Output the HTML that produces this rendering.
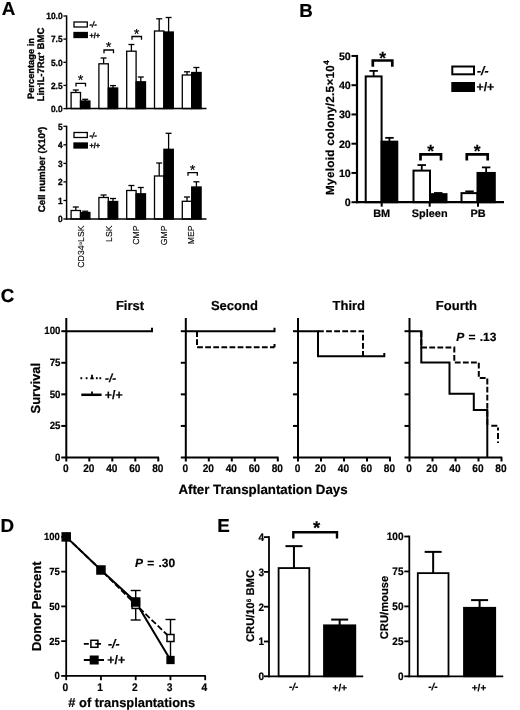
<!DOCTYPE html>
<html><head><meta charset="utf-8"><title>Figure</title>
<style>
html,body{margin:0;padding:0;background:#fff;}
body{width:520px;height:710px;overflow:hidden;}
svg{display:block;will-change:transform;font-family:"Liberation Sans",sans-serif;fill:#000;}
</style></head><body>
<svg width="520" height="710" viewBox="0 0 520 710" shape-rendering="geometricPrecision" text-rendering="geometricPrecision">
<rect x="0" y="0" width="520" height="710" fill="#fff"/>
<text x="1.8" y="14.9" font-size="18.8" font-weight="bold" text-anchor="start" stroke="#000" stroke-width="0.2">A</text>
<line x1="75.8" y1="90" x2="75.8" y2="92.5" stroke="#000" stroke-width="1.3" stroke-linecap="butt"/>
<line x1="72.8" y1="90" x2="78.8" y2="90" stroke="#000" stroke-width="1.3" stroke-linecap="butt"/>
<rect x="71.1" y="92.5" width="9.4" height="16.1" fill="#fff" stroke="#000" stroke-width="1.3"/>
<line x1="85.2" y1="99.3" x2="85.2" y2="101" stroke="#000" stroke-width="1.3" stroke-linecap="butt"/>
<line x1="82.2" y1="99.3" x2="88.2" y2="99.3" stroke="#000" stroke-width="1.3" stroke-linecap="butt"/>
<rect x="80.5" y="101" width="9.4" height="7.6" fill="#000" stroke="#000" stroke-width="1.3"/>
<line x1="103.6" y1="58" x2="103.6" y2="63.8" stroke="#000" stroke-width="1.3" stroke-linecap="butt"/>
<line x1="100.6" y1="58" x2="106.6" y2="58" stroke="#000" stroke-width="1.3" stroke-linecap="butt"/>
<rect x="98.9" y="63.8" width="9.4" height="44.8" fill="#fff" stroke="#000" stroke-width="1.3"/>
<line x1="113" y1="85.6" x2="113" y2="88" stroke="#000" stroke-width="1.3" stroke-linecap="butt"/>
<line x1="110" y1="85.6" x2="116" y2="85.6" stroke="#000" stroke-width="1.3" stroke-linecap="butt"/>
<rect x="108.3" y="88" width="9.4" height="20.6" fill="#000" stroke="#000" stroke-width="1.3"/>
<line x1="131.4" y1="44.5" x2="131.4" y2="51.2" stroke="#000" stroke-width="1.3" stroke-linecap="butt"/>
<line x1="128.4" y1="44.5" x2="134.4" y2="44.5" stroke="#000" stroke-width="1.3" stroke-linecap="butt"/>
<rect x="126.7" y="51.2" width="9.4" height="57.4" fill="#fff" stroke="#000" stroke-width="1.3"/>
<line x1="140.8" y1="77" x2="140.8" y2="81.8" stroke="#000" stroke-width="1.3" stroke-linecap="butt"/>
<line x1="137.8" y1="77" x2="143.8" y2="77" stroke="#000" stroke-width="1.3" stroke-linecap="butt"/>
<rect x="136.1" y="81.8" width="9.4" height="26.8" fill="#000" stroke="#000" stroke-width="1.3"/>
<line x1="159.2" y1="18.8" x2="159.2" y2="31" stroke="#000" stroke-width="1.3" stroke-linecap="butt"/>
<line x1="156.2" y1="18.8" x2="162.2" y2="18.8" stroke="#000" stroke-width="1.3" stroke-linecap="butt"/>
<rect x="154.5" y="31" width="9.4" height="77.6" fill="#fff" stroke="#000" stroke-width="1.3"/>
<line x1="168.6" y1="17.5" x2="168.6" y2="32" stroke="#000" stroke-width="1.3" stroke-linecap="butt"/>
<line x1="165.6" y1="17.5" x2="171.6" y2="17.5" stroke="#000" stroke-width="1.3" stroke-linecap="butt"/>
<rect x="163.9" y="32" width="9.4" height="76.6" fill="#000" stroke="#000" stroke-width="1.3"/>
<line x1="187" y1="71.8" x2="187" y2="75" stroke="#000" stroke-width="1.3" stroke-linecap="butt"/>
<line x1="184" y1="71.8" x2="190" y2="71.8" stroke="#000" stroke-width="1.3" stroke-linecap="butt"/>
<rect x="182.3" y="75" width="9.4" height="33.6" fill="#fff" stroke="#000" stroke-width="1.3"/>
<line x1="196.4" y1="67.5" x2="196.4" y2="72.5" stroke="#000" stroke-width="1.3" stroke-linecap="butt"/>
<line x1="193.4" y1="67.5" x2="199.4" y2="67.5" stroke="#000" stroke-width="1.3" stroke-linecap="butt"/>
<rect x="191.7" y="72.5" width="9.4" height="36.1" fill="#000" stroke="#000" stroke-width="1.3"/>
<line x1="66.6" y1="15.4" x2="66.6" y2="109.25" stroke="#000" stroke-width="1.5" stroke-linecap="butt"/>
<line x1="65.9" y1="108.6" x2="206.5" y2="108.6" stroke="#000" stroke-width="1.5" stroke-linecap="butt"/>
<line x1="63.4" y1="16" x2="66.6" y2="16" stroke="#000" stroke-width="1.3" stroke-linecap="butt"/>
<text x="0" y="0" font-size="9" font-weight="bold" text-anchor="end" stroke="#000" stroke-width="0.32" transform="translate(62.6 19.2) scale(0.93 1)">10.0</text>
<line x1="63.4" y1="39.1" x2="66.6" y2="39.1" stroke="#000" stroke-width="1.3" stroke-linecap="butt"/>
<text x="0" y="0" font-size="9" font-weight="bold" text-anchor="end" stroke="#000" stroke-width="0.32" transform="translate(62.6 42.3) scale(0.93 1)">7.5</text>
<line x1="63.4" y1="62.3" x2="66.6" y2="62.3" stroke="#000" stroke-width="1.3" stroke-linecap="butt"/>
<text x="0" y="0" font-size="9" font-weight="bold" text-anchor="end" stroke="#000" stroke-width="0.32" transform="translate(62.6 65.5) scale(0.93 1)">5.0</text>
<line x1="63.4" y1="85.4" x2="66.6" y2="85.4" stroke="#000" stroke-width="1.3" stroke-linecap="butt"/>
<text x="0" y="0" font-size="9" font-weight="bold" text-anchor="end" stroke="#000" stroke-width="0.32" transform="translate(62.6 88.6) scale(0.93 1)">2.5</text>
<line x1="63.4" y1="108.6" x2="66.6" y2="108.6" stroke="#000" stroke-width="1.3" stroke-linecap="butt"/>
<text x="0" y="0" font-size="9" font-weight="bold" text-anchor="end" stroke="#000" stroke-width="0.32" transform="translate(62.6 111.8) scale(0.93 1)">0.0</text>
<rect x="74" y="22" width="13.3" height="5" fill="#fff" stroke="#000" stroke-width="1.3"/>
<text x="89.6" y="27.2" font-size="7.6" font-weight="bold" text-anchor="start" stroke="#000" stroke-width="0.32" font-style="italic">-/-</text>
<rect x="74" y="32.5" width="13.3" height="5" fill="#000" stroke="#000" stroke-width="1.3"/>
<text x="89.5" y="37.7" font-size="7.4" font-weight="bold" text-anchor="start" stroke="#000" stroke-width="0.32">+/+</text>
<path d="M76 86.6V83.3H85.5V86.6" fill="none" stroke="#000" stroke-width="1.3" stroke-linejoin="miter"/>
<text x="80.65" y="85.39" font-size="14.6" font-weight="normal" text-anchor="middle" stroke="#000" stroke-width="0.15">*</text>
<path d="M104 53.3V50H113.5V53.3" fill="none" stroke="#000" stroke-width="1.3" stroke-linejoin="miter"/>
<text x="108.65" y="52.09" font-size="14.6" font-weight="normal" text-anchor="middle" stroke="#000" stroke-width="0.15">*</text>
<path d="M132 39.8V36.5H141.5V39.8" fill="none" stroke="#000" stroke-width="1.3" stroke-linejoin="miter"/>
<text x="136.65" y="38.59" font-size="14.6" font-weight="normal" text-anchor="middle" stroke="#000" stroke-width="0.15">*</text>
<text x="33.6" y="68.5" font-size="9.3" font-weight="bold" text-anchor="middle" stroke="#000" stroke-width="0.32" transform="rotate(-90 33.6 68.5)">Percentage in</text>
<text x="43.6" y="64.5" font-size="9.6" font-weight="bold" text-anchor="middle" stroke="#000" stroke-width="0.32" transform="rotate(-90 43.6 64.5)">Lin<tspan font-size="5.5" dy="-3">-</tspan><tspan dy="3">IL-7R&#945;</tspan><tspan font-size="5.5" dy="-3">+</tspan><tspan dy="3"> BMC</tspan></text>
<line x1="75.8" y1="207" x2="75.8" y2="210.5" stroke="#000" stroke-width="1.3" stroke-linecap="butt"/>
<line x1="72.8" y1="207" x2="78.8" y2="207" stroke="#000" stroke-width="1.3" stroke-linecap="butt"/>
<rect x="71.1" y="210.5" width="9.4" height="8.5" fill="#fff" stroke="#000" stroke-width="1.3"/>
<line x1="85.2" y1="211.2" x2="85.2" y2="212.5" stroke="#000" stroke-width="1.3" stroke-linecap="butt"/>
<line x1="82.2" y1="211.2" x2="88.2" y2="211.2" stroke="#000" stroke-width="1.3" stroke-linecap="butt"/>
<rect x="80.5" y="212.5" width="9.4" height="6.5" fill="#000" stroke="#000" stroke-width="1.3"/>
<line x1="103.6" y1="195" x2="103.6" y2="197.5" stroke="#000" stroke-width="1.3" stroke-linecap="butt"/>
<line x1="100.6" y1="195" x2="106.6" y2="195" stroke="#000" stroke-width="1.3" stroke-linecap="butt"/>
<rect x="98.9" y="197.5" width="9.4" height="21.5" fill="#fff" stroke="#000" stroke-width="1.3"/>
<line x1="113" y1="198.5" x2="113" y2="201.5" stroke="#000" stroke-width="1.3" stroke-linecap="butt"/>
<line x1="110" y1="198.5" x2="116" y2="198.5" stroke="#000" stroke-width="1.3" stroke-linecap="butt"/>
<rect x="108.3" y="201.5" width="9.4" height="17.5" fill="#000" stroke="#000" stroke-width="1.3"/>
<line x1="131.4" y1="185.5" x2="131.4" y2="190.5" stroke="#000" stroke-width="1.3" stroke-linecap="butt"/>
<line x1="128.4" y1="185.5" x2="134.4" y2="185.5" stroke="#000" stroke-width="1.3" stroke-linecap="butt"/>
<rect x="126.7" y="190.5" width="9.4" height="28.5" fill="#fff" stroke="#000" stroke-width="1.3"/>
<line x1="140.8" y1="187.5" x2="140.8" y2="193.8" stroke="#000" stroke-width="1.3" stroke-linecap="butt"/>
<line x1="137.8" y1="187.5" x2="143.8" y2="187.5" stroke="#000" stroke-width="1.3" stroke-linecap="butt"/>
<rect x="136.1" y="193.8" width="9.4" height="25.2" fill="#000" stroke="#000" stroke-width="1.3"/>
<line x1="159.2" y1="163" x2="159.2" y2="176" stroke="#000" stroke-width="1.3" stroke-linecap="butt"/>
<line x1="156.2" y1="163" x2="162.2" y2="163" stroke="#000" stroke-width="1.3" stroke-linecap="butt"/>
<rect x="154.5" y="176" width="9.4" height="43" fill="#fff" stroke="#000" stroke-width="1.3"/>
<line x1="168.6" y1="133.3" x2="168.6" y2="149.3" stroke="#000" stroke-width="1.3" stroke-linecap="butt"/>
<line x1="165.6" y1="133.3" x2="171.6" y2="133.3" stroke="#000" stroke-width="1.3" stroke-linecap="butt"/>
<rect x="163.9" y="149.3" width="9.4" height="69.7" fill="#000" stroke="#000" stroke-width="1.3"/>
<line x1="187" y1="197" x2="187" y2="201.3" stroke="#000" stroke-width="1.3" stroke-linecap="butt"/>
<line x1="184" y1="197" x2="190" y2="197" stroke="#000" stroke-width="1.3" stroke-linecap="butt"/>
<rect x="182.3" y="201.3" width="9.4" height="17.7" fill="#fff" stroke="#000" stroke-width="1.3"/>
<line x1="196.4" y1="181.8" x2="196.4" y2="187" stroke="#000" stroke-width="1.3" stroke-linecap="butt"/>
<line x1="193.4" y1="181.8" x2="199.4" y2="181.8" stroke="#000" stroke-width="1.3" stroke-linecap="butt"/>
<rect x="191.7" y="187" width="9.4" height="32" fill="#000" stroke="#000" stroke-width="1.3"/>
<line x1="66.6" y1="125.7" x2="66.6" y2="219.65" stroke="#000" stroke-width="1.5" stroke-linecap="butt"/>
<line x1="65.9" y1="219" x2="206.5" y2="219" stroke="#000" stroke-width="1.5" stroke-linecap="butt"/>
<line x1="63.4" y1="126.3" x2="66.6" y2="126.3" stroke="#000" stroke-width="1.3" stroke-linecap="butt"/>
<text x="0" y="0" font-size="9" font-weight="bold" text-anchor="end" stroke="#000" stroke-width="0.32" transform="translate(62.6 129.5) scale(0.93 1)">5</text>
<line x1="63.4" y1="144.8" x2="66.6" y2="144.8" stroke="#000" stroke-width="1.3" stroke-linecap="butt"/>
<text x="0" y="0" font-size="9" font-weight="bold" text-anchor="end" stroke="#000" stroke-width="0.32" transform="translate(62.6 148) scale(0.93 1)">4</text>
<line x1="63.4" y1="163.4" x2="66.6" y2="163.4" stroke="#000" stroke-width="1.3" stroke-linecap="butt"/>
<text x="0" y="0" font-size="9" font-weight="bold" text-anchor="end" stroke="#000" stroke-width="0.32" transform="translate(62.6 166.6) scale(0.93 1)">3</text>
<line x1="63.4" y1="181.9" x2="66.6" y2="181.9" stroke="#000" stroke-width="1.3" stroke-linecap="butt"/>
<text x="0" y="0" font-size="9" font-weight="bold" text-anchor="end" stroke="#000" stroke-width="0.32" transform="translate(62.6 185.1) scale(0.93 1)">2</text>
<line x1="63.4" y1="200.5" x2="66.6" y2="200.5" stroke="#000" stroke-width="1.3" stroke-linecap="butt"/>
<text x="0" y="0" font-size="9" font-weight="bold" text-anchor="end" stroke="#000" stroke-width="0.32" transform="translate(62.6 203.7) scale(0.93 1)">1</text>
<line x1="63.4" y1="219" x2="66.6" y2="219" stroke="#000" stroke-width="1.3" stroke-linecap="butt"/>
<text x="0" y="0" font-size="9" font-weight="bold" text-anchor="end" stroke="#000" stroke-width="0.32" transform="translate(62.6 222.2) scale(0.93 1)">0</text>
<rect x="74" y="132.5" width="13.3" height="5" fill="#fff" stroke="#000" stroke-width="1.3"/>
<text x="89.6" y="137.7" font-size="7.6" font-weight="bold" text-anchor="start" stroke="#000" stroke-width="0.32" font-style="italic">-/-</text>
<rect x="74" y="143" width="13.3" height="5" fill="#000" stroke="#000" stroke-width="1.3"/>
<text x="89.5" y="148.2" font-size="7.4" font-weight="bold" text-anchor="start" stroke="#000" stroke-width="0.32">+/+</text>
<path d="M188 175.8V172.6H197.3V175.8" fill="none" stroke="#000" stroke-width="1.3" stroke-linejoin="miter"/>
<text x="192.5" y="174.69" font-size="14.6" font-weight="normal" text-anchor="middle" stroke="#000" stroke-width="0.15">*</text>
<text x="45.2" y="169.5" font-size="9.7" font-weight="bold" text-anchor="middle" stroke="#000" stroke-width="0.32" transform="rotate(-90 45.2 169.5)">Cell number (X10<tspan font-size="5.5" dy="-3.2">4</tspan><tspan dy="3.2">)</tspan></text>
<text x="84.3" y="225.5" font-size="8.7" font-weight="normal" text-anchor="end" stroke="#000" stroke-width="0.15" transform="rotate(-90 84.3 225.5)">CD34<tspan font-size="4.5" dy="-2.5">lo</tspan><tspan dy="2.5">LSK</tspan></text>
<text x="112" y="225.5" font-size="8.7" font-weight="normal" text-anchor="end" stroke="#000" stroke-width="0.15" transform="rotate(-90 112 225.5)">LSK</text>
<text x="139" y="225.5" font-size="8.7" font-weight="normal" text-anchor="end" stroke="#000" stroke-width="0.15" transform="rotate(-90 139 225.5)">CMP</text>
<text x="166.8" y="225.5" font-size="8.7" font-weight="normal" text-anchor="end" stroke="#000" stroke-width="0.15" transform="rotate(-90 166.8 225.5)">GMP</text>
<text x="194.3" y="225.5" font-size="8.7" font-weight="normal" text-anchor="end" stroke="#000" stroke-width="0.15" transform="rotate(-90 194.3 225.5)">MEP</text>
<text x="299.3" y="17.3" font-size="18.8" font-weight="bold" text-anchor="start" stroke="#000" stroke-width="0.2">B</text>
<line x1="373.65" y1="70.87" x2="373.65" y2="76.42" stroke="#000" stroke-width="1.8" stroke-linecap="butt"/>
<line x1="369.4" y1="70.87" x2="377.9" y2="70.87" stroke="#000" stroke-width="1.8" stroke-linecap="butt"/>
<rect x="365.7" y="76.42" width="15.9" height="125.77" fill="#fff" stroke="#000" stroke-width="2"/>
<line x1="389.45" y1="137.85" x2="389.45" y2="141.65" stroke="#000" stroke-width="1.8" stroke-linecap="butt"/>
<line x1="385.2" y1="137.85" x2="393.7" y2="137.85" stroke="#000" stroke-width="1.8" stroke-linecap="butt"/>
<rect x="381.6" y="141.65" width="15.7" height="60.55" fill="#000" stroke="#000" stroke-width="2"/>
<line x1="421.75" y1="165.05" x2="421.75" y2="170.61" stroke="#000" stroke-width="1.8" stroke-linecap="butt"/>
<line x1="417.5" y1="165.05" x2="426" y2="165.05" stroke="#000" stroke-width="1.8" stroke-linecap="butt"/>
<rect x="413.5" y="170.61" width="16.5" height="31.59" fill="#fff" stroke="#000" stroke-width="2"/>
<line x1="438.25" y1="192.99" x2="438.25" y2="194.16" stroke="#000" stroke-width="1.8" stroke-linecap="butt"/>
<line x1="434" y1="192.99" x2="442.5" y2="192.99" stroke="#000" stroke-width="1.8" stroke-linecap="butt"/>
<rect x="430" y="194.16" width="16.5" height="8.04" fill="#000" stroke="#000" stroke-width="2"/>
<line x1="469.5" y1="191.38" x2="469.5" y2="193.13" stroke="#000" stroke-width="1.8" stroke-linecap="butt"/>
<line x1="465.25" y1="191.38" x2="473.75" y2="191.38" stroke="#000" stroke-width="1.8" stroke-linecap="butt"/>
<rect x="461.5" y="193.13" width="16" height="9.07" fill="#fff" stroke="#000" stroke-width="2"/>
<line x1="486.15" y1="167.39" x2="486.15" y2="172.95" stroke="#000" stroke-width="1.8" stroke-linecap="butt"/>
<line x1="481.9" y1="167.39" x2="490.4" y2="167.39" stroke="#000" stroke-width="1.8" stroke-linecap="butt"/>
<rect x="477.5" y="172.95" width="17.3" height="29.25" fill="#000" stroke="#000" stroke-width="2"/>
<line x1="357" y1="54.95" x2="357" y2="203.2" stroke="#000" stroke-width="2.2" stroke-linecap="butt"/>
<line x1="355.9" y1="202.2" x2="504" y2="202.2" stroke="#000" stroke-width="2.2" stroke-linecap="butt"/>
<line x1="351.5" y1="202.2" x2="357" y2="202.2" stroke="#000" stroke-width="2" stroke-linecap="butt"/>
<text x="350.8" y="206" font-size="10.7" font-weight="bold" text-anchor="end" stroke="#000" stroke-width="0.2">0</text>
<line x1="351.5" y1="172.95" x2="357" y2="172.95" stroke="#000" stroke-width="2" stroke-linecap="butt"/>
<text x="350.8" y="176.75" font-size="10.7" font-weight="bold" text-anchor="end" stroke="#000" stroke-width="0.2">10</text>
<line x1="351.5" y1="143.7" x2="357" y2="143.7" stroke="#000" stroke-width="2" stroke-linecap="butt"/>
<text x="350.8" y="147.5" font-size="10.7" font-weight="bold" text-anchor="end" stroke="#000" stroke-width="0.2">20</text>
<line x1="351.5" y1="114.45" x2="357" y2="114.45" stroke="#000" stroke-width="2" stroke-linecap="butt"/>
<text x="350.8" y="118.25" font-size="10.7" font-weight="bold" text-anchor="end" stroke="#000" stroke-width="0.2">30</text>
<line x1="351.5" y1="85.2" x2="357" y2="85.2" stroke="#000" stroke-width="2" stroke-linecap="butt"/>
<text x="350.8" y="89" font-size="10.7" font-weight="bold" text-anchor="end" stroke="#000" stroke-width="0.2">40</text>
<line x1="351.5" y1="55.95" x2="357" y2="55.95" stroke="#000" stroke-width="2" stroke-linecap="butt"/>
<text x="350.8" y="59.75" font-size="10.7" font-weight="bold" text-anchor="end" stroke="#000" stroke-width="0.2">50</text>
<line x1="381.7" y1="202.2" x2="381.7" y2="206.7" stroke="#000" stroke-width="2" stroke-linecap="butt"/>
<text x="381.7" y="216.7" font-size="10.9" font-weight="bold" text-anchor="middle" stroke="#000" stroke-width="0.2">BM</text>
<line x1="429.7" y1="202.2" x2="429.7" y2="206.7" stroke="#000" stroke-width="2" stroke-linecap="butt"/>
<text x="429.7" y="216.7" font-size="10.9" font-weight="bold" text-anchor="middle" stroke="#000" stroke-width="0.2">Spleen</text>
<line x1="478" y1="202.2" x2="478" y2="206.7" stroke="#000" stroke-width="2" stroke-linecap="butt"/>
<text x="478" y="216.7" font-size="10.9" font-weight="bold" text-anchor="middle" stroke="#000" stroke-width="0.2">PB</text>
<path d="M372.8 66.7V60.5H392.3V66.7" fill="none" stroke="#000" stroke-width="2.7" stroke-linejoin="miter"/>
<text x="382.55" y="63.59" font-size="17.5" font-weight="bold" text-anchor="middle" stroke="#000" stroke-width="0.2">*</text>
<path d="M420.5 160.5V154.3H441V160.5" fill="none" stroke="#000" stroke-width="2.7" stroke-linejoin="miter"/>
<text x="430.75" y="157.39" font-size="17.5" font-weight="bold" text-anchor="middle" stroke="#000" stroke-width="0.2">*</text>
<path d="M466.8 160.5V154.3H487.7V160.5" fill="none" stroke="#000" stroke-width="2.7" stroke-linejoin="miter"/>
<text x="477.25" y="157.39" font-size="17.5" font-weight="bold" text-anchor="middle" stroke="#000" stroke-width="0.2">*</text>
<rect x="452.3" y="66.5" width="21.7" height="7.8" fill="#fff" stroke="#000" stroke-width="2"/>
<rect x="452.3" y="83" width="21.7" height="8" fill="#000" stroke="#000" stroke-width="2"/>
<text x="477" y="74.5" font-size="12.3" font-weight="bold" text-anchor="start" stroke="#000" stroke-width="0.2" font-style="italic">-/-</text>
<text x="476.5" y="91" font-size="12.3" font-weight="bold" text-anchor="start" stroke="#000" stroke-width="0.2">+/+</text>
<text x="333.6" y="127.5" font-size="11.7" font-weight="bold" text-anchor="middle" stroke="#000" stroke-width="0.2" transform="rotate(-90 333.6 127.5)" letter-spacing="0.3">Myeloid colony/2.5&#215;10<tspan font-size="8" dy="-4.3">4</tspan></text>
<text x="0.8" y="301.8" font-size="18.8" font-weight="bold" text-anchor="start" stroke="#000" stroke-width="0.2">C</text>
<line x1="66.3" y1="318" x2="66.3" y2="458.25" stroke="#000" stroke-width="2.0" stroke-linecap="butt"/>
<line x1="65.55" y1="457.5" x2="159.05" y2="457.5" stroke="#000" stroke-width="2.0" stroke-linecap="butt"/>
<line x1="61.3" y1="457.5" x2="66.3" y2="457.5" stroke="#000" stroke-width="2.0" stroke-linecap="butt"/>
<text x="0" y="0" font-size="10.5" font-weight="bold" text-anchor="end" stroke="#000" stroke-width="0.2" transform="translate(60.5 460.7) scale(0.92 1)">0</text>
<line x1="61.3" y1="425.93" x2="66.3" y2="425.93" stroke="#000" stroke-width="2.0" stroke-linecap="butt"/>
<text x="0" y="0" font-size="10.5" font-weight="bold" text-anchor="end" stroke="#000" stroke-width="0.2" transform="translate(60.5 429.12) scale(0.92 1)">25</text>
<line x1="61.3" y1="394.35" x2="66.3" y2="394.35" stroke="#000" stroke-width="2.0" stroke-linecap="butt"/>
<text x="0" y="0" font-size="10.5" font-weight="bold" text-anchor="end" stroke="#000" stroke-width="0.2" transform="translate(60.5 397.55) scale(0.92 1)">50</text>
<line x1="61.3" y1="362.77" x2="66.3" y2="362.77" stroke="#000" stroke-width="2.0" stroke-linecap="butt"/>
<text x="0" y="0" font-size="10.5" font-weight="bold" text-anchor="end" stroke="#000" stroke-width="0.2" transform="translate(60.5 365.97) scale(0.92 1)">75</text>
<line x1="61.3" y1="331.2" x2="66.3" y2="331.2" stroke="#000" stroke-width="2.0" stroke-linecap="butt"/>
<text x="0" y="0" font-size="10.5" font-weight="bold" text-anchor="end" stroke="#000" stroke-width="0.2" transform="translate(60.5 334.4) scale(0.92 1)">100</text>
<line x1="66.3" y1="457.5" x2="66.3" y2="461.5" stroke="#000" stroke-width="2.0" stroke-linecap="butt"/>
<text x="0" y="0" font-size="11" font-weight="bold" text-anchor="middle" stroke="#000" stroke-width="0.2" transform="translate(65.8 472.3) scale(0.92 1)">0</text>
<line x1="89.3" y1="457.5" x2="89.3" y2="461.5" stroke="#000" stroke-width="2.0" stroke-linecap="butt"/>
<text x="0" y="0" font-size="11" font-weight="bold" text-anchor="middle" stroke="#000" stroke-width="0.2" transform="translate(88.8 472.3) scale(0.92 1)">20</text>
<line x1="112.3" y1="457.5" x2="112.3" y2="461.5" stroke="#000" stroke-width="2.0" stroke-linecap="butt"/>
<text x="0" y="0" font-size="11" font-weight="bold" text-anchor="middle" stroke="#000" stroke-width="0.2" transform="translate(111.8 472.3) scale(0.92 1)">40</text>
<line x1="135.3" y1="457.5" x2="135.3" y2="461.5" stroke="#000" stroke-width="2.0" stroke-linecap="butt"/>
<text x="0" y="0" font-size="11" font-weight="bold" text-anchor="middle" stroke="#000" stroke-width="0.2" transform="translate(134.8 472.3) scale(0.92 1)">60</text>
<line x1="158.3" y1="457.5" x2="158.3" y2="461.5" stroke="#000" stroke-width="2.0" stroke-linecap="butt"/>
<text x="0" y="0" font-size="11" font-weight="bold" text-anchor="middle" stroke="#000" stroke-width="0.2" transform="translate(157.8 472.3) scale(0.92 1)">80</text>
<text x="130" y="310.3" font-size="13" font-weight="bold" text-anchor="middle" stroke="#000" stroke-width="0.2">First</text>
<line x1="185.8" y1="318" x2="185.8" y2="458.25" stroke="#000" stroke-width="2.0" stroke-linecap="butt"/>
<line x1="185.05" y1="457.5" x2="278.55" y2="457.5" stroke="#000" stroke-width="2.0" stroke-linecap="butt"/>
<line x1="180.8" y1="457.5" x2="185.8" y2="457.5" stroke="#000" stroke-width="2.0" stroke-linecap="butt"/>
<line x1="180.8" y1="425.93" x2="185.8" y2="425.93" stroke="#000" stroke-width="2.0" stroke-linecap="butt"/>
<line x1="180.8" y1="394.35" x2="185.8" y2="394.35" stroke="#000" stroke-width="2.0" stroke-linecap="butt"/>
<line x1="180.8" y1="362.77" x2="185.8" y2="362.77" stroke="#000" stroke-width="2.0" stroke-linecap="butt"/>
<line x1="180.8" y1="331.2" x2="185.8" y2="331.2" stroke="#000" stroke-width="2.0" stroke-linecap="butt"/>
<line x1="185.8" y1="457.5" x2="185.8" y2="461.5" stroke="#000" stroke-width="2.0" stroke-linecap="butt"/>
<text x="0" y="0" font-size="11" font-weight="bold" text-anchor="middle" stroke="#000" stroke-width="0.2" transform="translate(185.3 472.3) scale(0.92 1)">0</text>
<line x1="208.8" y1="457.5" x2="208.8" y2="461.5" stroke="#000" stroke-width="2.0" stroke-linecap="butt"/>
<text x="0" y="0" font-size="11" font-weight="bold" text-anchor="middle" stroke="#000" stroke-width="0.2" transform="translate(208.3 472.3) scale(0.92 1)">20</text>
<line x1="231.8" y1="457.5" x2="231.8" y2="461.5" stroke="#000" stroke-width="2.0" stroke-linecap="butt"/>
<text x="0" y="0" font-size="11" font-weight="bold" text-anchor="middle" stroke="#000" stroke-width="0.2" transform="translate(231.3 472.3) scale(0.92 1)">40</text>
<line x1="254.8" y1="457.5" x2="254.8" y2="461.5" stroke="#000" stroke-width="2.0" stroke-linecap="butt"/>
<text x="0" y="0" font-size="11" font-weight="bold" text-anchor="middle" stroke="#000" stroke-width="0.2" transform="translate(254.3 472.3) scale(0.92 1)">60</text>
<line x1="277.8" y1="457.5" x2="277.8" y2="461.5" stroke="#000" stroke-width="2.0" stroke-linecap="butt"/>
<text x="0" y="0" font-size="11" font-weight="bold" text-anchor="middle" stroke="#000" stroke-width="0.2" transform="translate(277.3 472.3) scale(0.92 1)">80</text>
<text x="234.4" y="310.3" font-size="13" font-weight="bold" text-anchor="middle" stroke="#000" stroke-width="0.2">Second</text>
<line x1="298" y1="318" x2="298" y2="458.25" stroke="#000" stroke-width="2.0" stroke-linecap="butt"/>
<line x1="297.25" y1="457.5" x2="390.75" y2="457.5" stroke="#000" stroke-width="2.0" stroke-linecap="butt"/>
<line x1="293" y1="457.5" x2="298" y2="457.5" stroke="#000" stroke-width="2.0" stroke-linecap="butt"/>
<line x1="293" y1="425.93" x2="298" y2="425.93" stroke="#000" stroke-width="2.0" stroke-linecap="butt"/>
<line x1="293" y1="394.35" x2="298" y2="394.35" stroke="#000" stroke-width="2.0" stroke-linecap="butt"/>
<line x1="293" y1="362.77" x2="298" y2="362.77" stroke="#000" stroke-width="2.0" stroke-linecap="butt"/>
<line x1="293" y1="331.2" x2="298" y2="331.2" stroke="#000" stroke-width="2.0" stroke-linecap="butt"/>
<line x1="298" y1="457.5" x2="298" y2="461.5" stroke="#000" stroke-width="2.0" stroke-linecap="butt"/>
<text x="0" y="0" font-size="11" font-weight="bold" text-anchor="middle" stroke="#000" stroke-width="0.2" transform="translate(297.5 472.3) scale(0.92 1)">0</text>
<line x1="321" y1="457.5" x2="321" y2="461.5" stroke="#000" stroke-width="2.0" stroke-linecap="butt"/>
<text x="0" y="0" font-size="11" font-weight="bold" text-anchor="middle" stroke="#000" stroke-width="0.2" transform="translate(320.5 472.3) scale(0.92 1)">20</text>
<line x1="344" y1="457.5" x2="344" y2="461.5" stroke="#000" stroke-width="2.0" stroke-linecap="butt"/>
<text x="0" y="0" font-size="11" font-weight="bold" text-anchor="middle" stroke="#000" stroke-width="0.2" transform="translate(343.5 472.3) scale(0.92 1)">40</text>
<line x1="367" y1="457.5" x2="367" y2="461.5" stroke="#000" stroke-width="2.0" stroke-linecap="butt"/>
<text x="0" y="0" font-size="11" font-weight="bold" text-anchor="middle" stroke="#000" stroke-width="0.2" transform="translate(366.5 472.3) scale(0.92 1)">60</text>
<line x1="390" y1="457.5" x2="390" y2="461.5" stroke="#000" stroke-width="2.0" stroke-linecap="butt"/>
<text x="0" y="0" font-size="11" font-weight="bold" text-anchor="middle" stroke="#000" stroke-width="0.2" transform="translate(389.5 472.3) scale(0.92 1)">80</text>
<text x="348.8" y="310.3" font-size="13" font-weight="bold" text-anchor="middle" stroke="#000" stroke-width="0.2">Third</text>
<line x1="409.5" y1="318" x2="409.5" y2="458.25" stroke="#000" stroke-width="2.0" stroke-linecap="butt"/>
<line x1="408.75" y1="457.5" x2="502.25" y2="457.5" stroke="#000" stroke-width="2.0" stroke-linecap="butt"/>
<line x1="404.5" y1="457.5" x2="409.5" y2="457.5" stroke="#000" stroke-width="2.0" stroke-linecap="butt"/>
<line x1="404.5" y1="425.93" x2="409.5" y2="425.93" stroke="#000" stroke-width="2.0" stroke-linecap="butt"/>
<line x1="404.5" y1="394.35" x2="409.5" y2="394.35" stroke="#000" stroke-width="2.0" stroke-linecap="butt"/>
<line x1="404.5" y1="362.77" x2="409.5" y2="362.77" stroke="#000" stroke-width="2.0" stroke-linecap="butt"/>
<line x1="404.5" y1="331.2" x2="409.5" y2="331.2" stroke="#000" stroke-width="2.0" stroke-linecap="butt"/>
<line x1="409.5" y1="457.5" x2="409.5" y2="461.5" stroke="#000" stroke-width="2.0" stroke-linecap="butt"/>
<text x="0" y="0" font-size="11" font-weight="bold" text-anchor="middle" stroke="#000" stroke-width="0.2" transform="translate(409 472.3) scale(0.92 1)">0</text>
<line x1="432.5" y1="457.5" x2="432.5" y2="461.5" stroke="#000" stroke-width="2.0" stroke-linecap="butt"/>
<text x="0" y="0" font-size="11" font-weight="bold" text-anchor="middle" stroke="#000" stroke-width="0.2" transform="translate(432 472.3) scale(0.92 1)">20</text>
<line x1="455.5" y1="457.5" x2="455.5" y2="461.5" stroke="#000" stroke-width="2.0" stroke-linecap="butt"/>
<text x="0" y="0" font-size="11" font-weight="bold" text-anchor="middle" stroke="#000" stroke-width="0.2" transform="translate(455 472.3) scale(0.92 1)">40</text>
<line x1="478.5" y1="457.5" x2="478.5" y2="461.5" stroke="#000" stroke-width="2.0" stroke-linecap="butt"/>
<text x="0" y="0" font-size="11" font-weight="bold" text-anchor="middle" stroke="#000" stroke-width="0.2" transform="translate(478 472.3) scale(0.92 1)">60</text>
<line x1="501.5" y1="457.5" x2="501.5" y2="461.5" stroke="#000" stroke-width="2.0" stroke-linecap="butt"/>
<text x="0" y="0" font-size="11" font-weight="bold" text-anchor="middle" stroke="#000" stroke-width="0.2" transform="translate(501 472.3) scale(0.92 1)">80</text>
<text x="456.4" y="310.3" font-size="13" font-weight="bold" text-anchor="middle" stroke="#000" stroke-width="0.2">Fourth</text>
<path d="M66.3 331.2H152V327.7" fill="none" stroke="#000" stroke-width="2.0" stroke-linejoin="miter"/>
<line x1="80.4" y1="378.2" x2="82.2" y2="378.2" stroke="#000" stroke-width="2.0" stroke-linecap="butt"/>
<line x1="85.7" y1="378.2" x2="87.5" y2="378.2" stroke="#000" stroke-width="2.0" stroke-linecap="butt"/>
<line x1="95.9" y1="378.2" x2="97.7" y2="378.2" stroke="#000" stroke-width="2.0" stroke-linecap="butt"/>
<line x1="99.4" y1="378.2" x2="101.2" y2="378.2" stroke="#000" stroke-width="2.0" stroke-linecap="butt"/>
<line x1="90.3" y1="378.4" x2="93.8" y2="378.4" stroke="#000" stroke-width="1.8" stroke-linecap="butt"/>
<line x1="92" y1="374.8" x2="92" y2="378.4" stroke="#000" stroke-width="1.8" stroke-linecap="butt"/>
<text x="105" y="381.8" font-size="11.8" font-weight="bold" text-anchor="start" stroke="#000" stroke-width="0.2" font-style="italic">-/-</text>
<line x1="81.3" y1="394.8" x2="101.6" y2="394.8" stroke="#000" stroke-width="2.5" stroke-linecap="butt"/>
<line x1="92" y1="391.5" x2="92" y2="394.8" stroke="#000" stroke-width="1.8" stroke-linecap="butt"/>
<text x="104.8" y="399.2" font-size="12.3" font-weight="bold" text-anchor="start" stroke="#000" stroke-width="0.2">+/+</text>
<path d="M185.8 331.2H274.5V327.7" fill="none" stroke="#000" stroke-width="2.0" stroke-linejoin="miter"/>
<path d="M197 331.2V347.3H274.5" fill="none" stroke="#000" stroke-width="2.0" stroke-linejoin="miter" stroke-dasharray="5.8 2.3"/>
<line x1="274.5" y1="347.3" x2="274.5" y2="344" stroke="#000" stroke-width="2.0" stroke-linecap="butt"/>
<path d="M318 331.2H363V356.3" fill="none" stroke="#000" stroke-width="2.0" stroke-linejoin="miter" stroke-dasharray="5.8 2.3"/>
<path d="M298 331.2H318V356.3H384.3V353" fill="none" stroke="#000" stroke-width="2.0" stroke-linejoin="miter"/>
<path d="M421.3 331.2V347.5H454.3V362.5H478.8V378H487.3V425.8" fill="none" stroke="#000" stroke-width="2.0" stroke-linejoin="miter" stroke-dasharray="5.8 2.3"/>
<path d="M491.3 425.8H498V443" fill="none" stroke="#000" stroke-width="2.0" stroke-linejoin="miter" stroke-dasharray="6 2.5 3 2.5"/>
<path d="M409.5 331.2H421.3V362.5H449.5V393.8H473.8V410H487.3V457.5" fill="none" stroke="#000" stroke-width="2.0" stroke-linejoin="miter"/>
<text x="456.3" y="341" font-size="12" font-weight="bold" text-anchor="start" stroke="#000" stroke-width="0.2" word-spacing="0.9"><tspan font-style="italic">P</tspan> = .13</text>
<text x="40.5" y="388.2" font-size="13" font-weight="bold" text-anchor="middle" stroke="#000" stroke-width="0.2" transform="rotate(-90 40.5 388.2)">Survival</text>
<text x="263" y="493.8" font-size="13.3" font-weight="bold" text-anchor="middle" stroke="#000" stroke-width="0.2">After Transplantation Days</text>
<text x="0.4" y="531.8" font-size="18.8" font-weight="bold" text-anchor="start" stroke="#000" stroke-width="0.2">D</text>
<line x1="66.2" y1="536.9" x2="66.2" y2="676.8" stroke="#000" stroke-width="1.8" stroke-linecap="butt"/>
<line x1="65.3" y1="675.9" x2="205.8" y2="675.9" stroke="#000" stroke-width="1.8" stroke-linecap="butt"/>
<line x1="61.2" y1="675.9" x2="66.2" y2="675.9" stroke="#000" stroke-width="1.8" stroke-linecap="butt"/>
<text x="0" y="0" font-size="10.3" font-weight="bold" text-anchor="end" stroke="#000" stroke-width="0.2" transform="translate(59.9 679.3) scale(0.92 1)">0</text>
<line x1="61.2" y1="641.15" x2="66.2" y2="641.15" stroke="#000" stroke-width="1.8" stroke-linecap="butt"/>
<text x="0" y="0" font-size="10.3" font-weight="bold" text-anchor="end" stroke="#000" stroke-width="0.2" transform="translate(59.9 644.55) scale(0.92 1)">25</text>
<line x1="61.2" y1="606.4" x2="66.2" y2="606.4" stroke="#000" stroke-width="1.8" stroke-linecap="butt"/>
<text x="0" y="0" font-size="10.3" font-weight="bold" text-anchor="end" stroke="#000" stroke-width="0.2" transform="translate(59.9 609.8) scale(0.92 1)">50</text>
<line x1="61.2" y1="571.65" x2="66.2" y2="571.65" stroke="#000" stroke-width="1.8" stroke-linecap="butt"/>
<text x="0" y="0" font-size="10.3" font-weight="bold" text-anchor="end" stroke="#000" stroke-width="0.2" transform="translate(59.9 575.05) scale(0.92 1)">75</text>
<line x1="61.2" y1="536.9" x2="66.2" y2="536.9" stroke="#000" stroke-width="1.8" stroke-linecap="butt"/>
<text x="0" y="0" font-size="10.3" font-weight="bold" text-anchor="end" stroke="#000" stroke-width="0.2" transform="translate(59.9 540.3) scale(0.92 1)">100</text>
<line x1="66.2" y1="675.9" x2="66.2" y2="680.2" stroke="#000" stroke-width="1.8" stroke-linecap="butt"/>
<text x="0" y="0" font-size="11" font-weight="bold" text-anchor="middle" stroke="#000" stroke-width="0.2" transform="translate(65.4 690.6) scale(0.93 1)">0</text>
<line x1="100.95" y1="675.9" x2="100.95" y2="680.2" stroke="#000" stroke-width="1.8" stroke-linecap="butt"/>
<text x="0" y="0" font-size="11" font-weight="bold" text-anchor="middle" stroke="#000" stroke-width="0.2" transform="translate(100.15 690.6) scale(0.93 1)">1</text>
<line x1="135.7" y1="675.9" x2="135.7" y2="680.2" stroke="#000" stroke-width="1.8" stroke-linecap="butt"/>
<text x="0" y="0" font-size="11" font-weight="bold" text-anchor="middle" stroke="#000" stroke-width="0.2" transform="translate(134.9 690.6) scale(0.93 1)">2</text>
<line x1="170.45" y1="675.9" x2="170.45" y2="680.2" stroke="#000" stroke-width="1.8" stroke-linecap="butt"/>
<text x="0" y="0" font-size="11" font-weight="bold" text-anchor="middle" stroke="#000" stroke-width="0.2" transform="translate(169.65 690.6) scale(0.93 1)">3</text>
<line x1="205.2" y1="675.9" x2="205.2" y2="680.2" stroke="#000" stroke-width="1.8" stroke-linecap="butt"/>
<text x="0" y="0" font-size="11" font-weight="bold" text-anchor="middle" stroke="#000" stroke-width="0.2" transform="translate(204.4 690.6) scale(0.93 1)">4</text>
<text x="68.3" y="706.7" font-size="12.9" font-weight="bold" text-anchor="start" stroke="#000" stroke-width="0.2"># of transplantations</text>
<text x="40.6" y="606.3" font-size="13" font-weight="bold" text-anchor="middle" stroke="#000" stroke-width="0.2" transform="rotate(-90 40.6 606.3)">Donor Percent</text>
<text x="135" y="567" font-size="12" font-weight="bold" text-anchor="start" stroke="#000" stroke-width="0.2" word-spacing="0.9"><tspan font-style="italic">P</tspan> = .30</text>
<line x1="135.7" y1="590.5" x2="135.7" y2="620" stroke="#000" stroke-width="1.4" stroke-linecap="butt"/>
<line x1="130.7" y1="590.5" x2="140.7" y2="590.5" stroke="#000" stroke-width="1.4" stroke-linecap="butt"/>
<line x1="130.7" y1="620" x2="140.7" y2="620" stroke="#000" stroke-width="1.4" stroke-linecap="butt"/>
<line x1="170.5" y1="619.5" x2="170.5" y2="660" stroke="#000" stroke-width="1.4" stroke-linecap="butt"/>
<line x1="165.5" y1="619.5" x2="175.5" y2="619.5" stroke="#000" stroke-width="1.4" stroke-linecap="butt"/>
<path d="M66.2 536.9L100.95 570 L135.7 604.5 L170.5 638" fill="none" stroke="#000" stroke-width="1.8" stroke-linejoin="miter" stroke-dasharray="6 2.5"/>
<path d="M66.2 536.9L100.95 570 L135.7 602 L170.5 660" fill="none" stroke="#000" stroke-width="2" stroke-linejoin="miter"/>
<rect x="132.05" y="601.15" width="7.3" height="7.3" fill="#fff" stroke="#000" stroke-width="1.5"/>
<rect x="167" y="634.5" width="7" height="7" fill="#fff" stroke="#000" stroke-width="1.5"/>
<rect x="62.2" y="532.9" width="8" height="8" fill="#000" stroke="#000" stroke-width="1.5"/>
<rect x="96.95" y="566" width="8" height="8" fill="#000" stroke="#000" stroke-width="1.5"/>
<rect x="131.7" y="598" width="8" height="8" fill="#000" stroke="#000" stroke-width="1.5"/>
<rect x="167.1" y="656.6" width="6.8" height="6.8" fill="#000" stroke="#000" stroke-width="1.5"/>
<line x1="83.8" y1="643.8" x2="101" y2="643.8" stroke="#000" stroke-width="1.8" stroke-linecap="butt" stroke-dasharray="5 2"/>
<rect x="90.9" y="640.3" width="7" height="7" fill="#fff" stroke="#000" stroke-width="1.5"/>
<line x1="95.3" y1="643.8" x2="98" y2="643.8" stroke="#000" stroke-width="1.8" stroke-linecap="butt"/>
<text x="108" y="647.8" font-size="12.3" font-weight="bold" text-anchor="start" stroke="#000" stroke-width="0.2" font-style="italic">-/-</text>
<line x1="83.8" y1="660" x2="104" y2="660" stroke="#000" stroke-width="2" stroke-linecap="butt"/>
<rect x="90.45" y="656.25" width="7.5" height="7.5" fill="#000" stroke="#000" stroke-width="1.5"/>
<text x="107.3" y="664.2" font-size="12.3" font-weight="bold" text-anchor="start" stroke="#000" stroke-width="0.2">+/+</text>
<text x="217.3" y="532.3" font-size="18.8" font-weight="bold" text-anchor="start" stroke="#000" stroke-width="0.2">E</text>
<line x1="293.95" y1="546.15" x2="293.95" y2="568.07" stroke="#000" stroke-width="2" stroke-linecap="butt"/>
<line x1="285.45" y1="546.15" x2="302.45" y2="546.15" stroke="#000" stroke-width="2" stroke-linecap="butt"/>
<rect x="278.6" y="568.07" width="30.7" height="108.23" fill="#fff" stroke="#000" stroke-width="1.8"/>
<line x1="339.65" y1="619.58" x2="339.65" y2="625.32" stroke="#000" stroke-width="2" stroke-linecap="butt"/>
<line x1="331.15" y1="619.58" x2="348.15" y2="619.58" stroke="#000" stroke-width="2" stroke-linecap="butt"/>
<rect x="324" y="625.32" width="31.3" height="50.98" fill="#000" stroke="#000" stroke-width="1.8"/>
<line x1="269" y1="536.2" x2="269" y2="677.2" stroke="#000" stroke-width="1.8" stroke-linecap="butt"/>
<line x1="268.1" y1="676.3" x2="363.2" y2="676.3" stroke="#000" stroke-width="1.8" stroke-linecap="butt"/>
<line x1="264" y1="676.3" x2="269" y2="676.3" stroke="#000" stroke-width="1.8" stroke-linecap="butt"/>
<text x="0" y="0" font-size="10.8" font-weight="bold" text-anchor="end" stroke="#000" stroke-width="0.2" transform="translate(264.2 680.1) scale(0.93 1)">0</text>
<line x1="264" y1="641.5" x2="269" y2="641.5" stroke="#000" stroke-width="1.8" stroke-linecap="butt"/>
<text x="0" y="0" font-size="10.8" font-weight="bold" text-anchor="end" stroke="#000" stroke-width="0.2" transform="translate(264.2 645.3) scale(0.93 1)">1</text>
<line x1="264" y1="606.7" x2="269" y2="606.7" stroke="#000" stroke-width="1.8" stroke-linecap="butt"/>
<text x="0" y="0" font-size="10.8" font-weight="bold" text-anchor="end" stroke="#000" stroke-width="0.2" transform="translate(264.2 610.5) scale(0.93 1)">2</text>
<line x1="264" y1="571.9" x2="269" y2="571.9" stroke="#000" stroke-width="1.8" stroke-linecap="butt"/>
<text x="0" y="0" font-size="10.8" font-weight="bold" text-anchor="end" stroke="#000" stroke-width="0.2" transform="translate(264.2 575.7) scale(0.93 1)">3</text>
<line x1="264" y1="537.1" x2="269" y2="537.1" stroke="#000" stroke-width="1.8" stroke-linecap="butt"/>
<text x="0" y="0" font-size="10.8" font-weight="bold" text-anchor="end" stroke="#000" stroke-width="0.2" transform="translate(264.2 540.9) scale(0.93 1)">4</text>
<text x="293.7" y="690" font-size="10" font-weight="bold" text-anchor="middle" stroke="#000" stroke-width="0.2" font-style="italic">-/-</text>
<text x="339.8" y="691.3" font-size="10" font-weight="bold" text-anchor="middle" stroke="#000" stroke-width="0.2">+/+</text>
<text x="254" y="606" font-size="11.2" font-weight="bold" text-anchor="middle" stroke="#000" stroke-width="0.2" transform="rotate(-90 254 606)">CRU/10<tspan font-size="6.5" dy="-3.5">6</tspan><tspan dy="3.5"> BMC</tspan></text>
<path d="M293.3 538.5V532.2H337V538.5" fill="none" stroke="#000" stroke-width="2.4" stroke-linejoin="miter"/>
<text x="316.5" y="534.1" font-size="18.5" font-weight="bold" text-anchor="middle" stroke="#000" stroke-width="0.2">*</text>
<line x1="433.15" y1="551.88" x2="433.15" y2="573.13" stroke="#000" stroke-width="2" stroke-linecap="butt"/>
<line x1="424.65" y1="551.88" x2="441.65" y2="551.88" stroke="#000" stroke-width="2" stroke-linecap="butt"/>
<rect x="417.8" y="573.13" width="30.7" height="103.17" fill="#fff" stroke="#000" stroke-width="1.8"/>
<line x1="479.6" y1="600.11" x2="479.6" y2="607.8" stroke="#000" stroke-width="2" stroke-linecap="butt"/>
<line x1="471.1" y1="600.11" x2="488.1" y2="600.11" stroke="#000" stroke-width="2" stroke-linecap="butt"/>
<rect x="464" y="607.8" width="31.2" height="68.5" fill="#000" stroke="#000" stroke-width="1.8"/>
<line x1="409.3" y1="535.6" x2="409.3" y2="677.2" stroke="#000" stroke-width="1.8" stroke-linecap="butt"/>
<line x1="408.4" y1="676.3" x2="503.2" y2="676.3" stroke="#000" stroke-width="1.8" stroke-linecap="butt"/>
<line x1="404.3" y1="676.3" x2="409.3" y2="676.3" stroke="#000" stroke-width="1.8" stroke-linecap="butt"/>
<text x="0" y="0" font-size="10.8" font-weight="bold" text-anchor="end" stroke="#000" stroke-width="0.2" transform="translate(403.5 680.1) scale(0.93 1)">0</text>
<line x1="404.3" y1="641.35" x2="409.3" y2="641.35" stroke="#000" stroke-width="1.8" stroke-linecap="butt"/>
<text x="0" y="0" font-size="10.8" font-weight="bold" text-anchor="end" stroke="#000" stroke-width="0.2" transform="translate(403.5 645.15) scale(0.93 1)">25</text>
<line x1="404.3" y1="606.4" x2="409.3" y2="606.4" stroke="#000" stroke-width="1.8" stroke-linecap="butt"/>
<text x="0" y="0" font-size="10.8" font-weight="bold" text-anchor="end" stroke="#000" stroke-width="0.2" transform="translate(403.5 610.2) scale(0.93 1)">50</text>
<line x1="404.3" y1="571.45" x2="409.3" y2="571.45" stroke="#000" stroke-width="1.8" stroke-linecap="butt"/>
<text x="0" y="0" font-size="10.8" font-weight="bold" text-anchor="end" stroke="#000" stroke-width="0.2" transform="translate(403.5 575.25) scale(0.93 1)">75</text>
<line x1="404.3" y1="536.5" x2="409.3" y2="536.5" stroke="#000" stroke-width="1.8" stroke-linecap="butt"/>
<text x="0" y="0" font-size="10.8" font-weight="bold" text-anchor="end" stroke="#000" stroke-width="0.2" transform="translate(403.5 540.3) scale(0.93 1)">100</text>
<text x="433" y="690" font-size="10" font-weight="bold" text-anchor="middle" stroke="#000" stroke-width="0.2" font-style="italic">-/-</text>
<text x="479" y="691.3" font-size="10" font-weight="bold" text-anchor="middle" stroke="#000" stroke-width="0.2">+/+</text>
<text x="388.3" y="607.5" font-size="11.2" font-weight="bold" text-anchor="middle" stroke="#000" stroke-width="0.2" transform="rotate(-90 388.3 607.5)">CRU/mouse</text>
</svg>
</body></html>
